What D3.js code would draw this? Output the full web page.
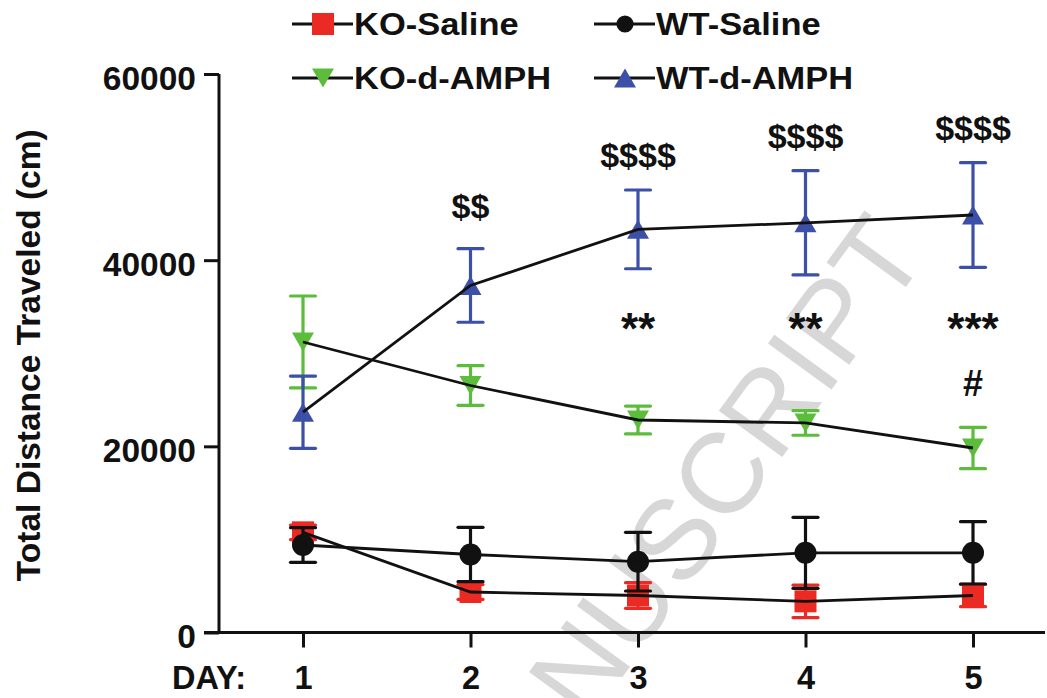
<!DOCTYPE html>
<html>
<head>
<meta charset="utf-8">
<script src="https://cdn.jsdelivr.net/npm/d3@7"></script>
<style>
  html, body { margin: 0; padding: 0; background: #fff; }
  svg { display: block; }
  text { font-family: "Liberation Sans", Arial, Helvetica, sans-serif; font-weight: bold; fill: #111; }
</style>
</head>
<body>
<svg id="chart" width="1047" height="698"></svg>
<script>
// ---------------- data ----------------
const days = [1, 2, 3, 4, 5];
const xTickLabels = ["1", "2", "3", "4", "5"];
const yTicks = [0, 20000, 40000, 60000];

const seriesNames = ["KO-Saline", "WT-Saline", "KO-d-AMPH", "WT-d-AMPH"];
const koSalineMean = [10760, 4350, 3975, 3350, 3975];
const koSalineSem  = [790, 800, 1375, 1750, 1200];
const wtSalineMean = [9400, 8380, 7610, 8560, 8560];
const wtSalineSem  = [1860, 2920, 3150, 3810, 3350];
const koAmphMean   = [31210, 26535, 22830, 22510, 19820];
const koAmphSem    = [4940, 2130, 1500, 1320, 2220];
const wtAmphMean   = [23670, 37280, 43310, 44010, 44850];
const wtAmphSem    = [3880, 3950, 4230, 5600, 5620];

const annotDays   = [2, 3, 4, 5, 3, 4, 5, 5];
const annotLabels = ["$$", "$$$$", "$$$$", "$$$$", "**", "**", "***", "#"];
const annotValues = [44490, 49970, 52010, 52910, 31000, 31000, 31000, 25410];

const yTitle = "Total Distance Traveled (cm)";
const xPrefix = "DAY:";
const watermark = "ACCEPTED MANUSCRIPT";

// ---------------- styles ----------------
const colors = { "KO-Saline": "#ec2a24", "WT-Saline": "#111111", "KO-d-AMPH": "#5bbd3b", "WT-d-AMPH": "#3d50a8" };
const shapes = { "KO-Saline": "square", "WT-Saline": "circle", "KO-d-AMPH": "down", "WT-d-AMPH": "up" };

const svg = d3.select("#chart");
const x = d3.scaleLinear().domain([1, 5]).range([303, 973]);
const y = d3.scaleLinear().domain([0, 60000]).range([632.5, 74]);

function markerPath(shape, s) {
  s = s || 1;
  if (shape === "square") return d3.symbol(d3.symbolSquare, 22 * 22 * s * s)();
  if (shape === "circle") return d3.symbol(d3.symbolCircle, Math.PI * 11 * 11 * s * s)();
  const w = 11 * s, h = 9.5 * s;
  if (shape === "up") return `M0,${-h}L${w},${h}L${-w},${h}Z`;
  return `M0,${h}L${w},${-h}L${-w},${-h}Z`;
}

// watermark (behind everything)
svg.append("text")
  .attr("transform", "translate(673,538) rotate(-54)")
  .attr("x", -9.0 * 114).attr("y", 0.358 * 114)
  .style("font-weight", "normal").style("font-size", "114px").style("fill", "#d7d7d7")
  .text(watermark);

// series objects
const means = [koSalineMean, wtSalineMean, koAmphMean, wtAmphMean];
const sems = [koSalineSem, wtSalineSem, koAmphSem, wtAmphSem];
const series = seriesNames.map((name, i) => ({
  name,
  points: days.map((d, j) => ({ day: d, mean: means[i][j], sem: sems[i][j] }))
}));

// error bars + markers
const capW = 12.5;
series.forEach(s => {
  const g = svg.append("g").attr("class", "series");
  const c = colors[s.name];
  const eb = g.selectAll("g.eb").data(s.points).enter().append("g");
  eb.append("line")
    .attr("x1", d => x(d.day)).attr("x2", d => x(d.day))
    .attr("y1", d => y(d.mean + d.sem)).attr("y2", d => y(d.mean - d.sem))
    .attr("stroke", c).attr("stroke-width", 3.2);
  [1, -1].forEach(sign => {
    eb.append("line")
      .attr("x1", d => x(d.day) - capW).attr("x2", d => x(d.day) + capW)
      .attr("y1", d => y(d.mean + sign * d.sem)).attr("y2", d => y(d.mean + sign * d.sem))
      .attr("stroke", c).attr("stroke-width", 3.2).attr("stroke-linecap", "round");
  });
  g.selectAll("path.m").data(s.points).enter().append("path")
    .attr("class", "m")
    .attr("transform", d => `translate(${x(d.day)},${y(d.mean)})`)
    .attr("d", markerPath(shapes[s.name]))
    .attr("fill", c);
});

// connecting lines on top
const line = d3.line().x(d => x(d.day)).y(d => y(d.mean));
series.forEach(s => {
  svg.append("path").datum(s.points)
    .attr("d", line).attr("fill", "none")
    .attr("stroke", "#111").attr("stroke-width", 2.8);
});

// y axis
const yAxis = d3.axisLeft(y).tickValues(yTicks).tickFormat(d3.format("d")).tickSize(15).tickSizeOuter(0).tickPadding(8);
const gy = svg.append("g").attr("transform", "translate(219,0)").call(yAxis);
gy.select(".domain").attr("stroke", "#111").attr("stroke-width", 3).attr("d", `M0,${y(60000)}V${y(0)}`);
gy.selectAll(".tick line").attr("stroke", "#111").attr("stroke-width", 3);
gy.selectAll(".tick text").attr("dy", "0.46em").style("font-size", "33.5px").style("font-family", null).attr("fill", "#111");

// x axis
svg.append("line").attr("x1", 204).attr("x2", 1045).attr("y1", y(0)).attr("y2", y(0))
  .attr("stroke", "#111").attr("stroke-width", 3);
const xAxis = d3.axisBottom(x).tickValues(days).tickFormat((d, i) => xTickLabels[i]).tickSize(15).tickSizeOuter(0).tickPadding(18.5);
const gx = svg.append("g").attr("transform", `translate(0,${y(0)})`).call(xAxis);
gx.select(".domain").remove();
gx.selectAll(".tick line").attr("stroke", "#111").attr("stroke-width", 3);
gx.selectAll(".tick text").style("font-size", "32.5px").style("font-family", null).attr("fill", "#111");
svg.append("text").attr("x", 172).attr("y", 689).style("font-size", "32.5px").text(xPrefix);

// y title
svg.append("text")
  .attr("transform", `translate(39.5,${(y(0) + y(60000)) / 2 + 2}) rotate(-90)`)
  .attr("text-anchor", "middle").style("font-size", "33.5px")
  .text(yTitle);

// annotations
annotLabels.forEach((lab, i) => {
  const star = lab.indexOf("*") >= 0;
  const hash = lab === "#";
  svg.append("text")
    .attr("x", x(annotDays[i])).attr("y", y(annotValues[i]))
    .attr("text-anchor", "middle")
    .style("font-size", star ? "44px" : (hash ? "36px" : "34px"))
    .text(lab);
});

// legend
const legendItems = [
  { name: "KO-Saline", lx: 292, ly: 24, small: false },
  { name: "WT-Saline", lx: 594, ly: 24, small: true },
  { name: "KO-d-AMPH", lx: 292, ly: 78, small: false },
  { name: "WT-d-AMPH", lx: 594, ly: 78, small: false }
];
legendItems.forEach(it => {
  const g = svg.append("g").attr("transform", `translate(${it.lx},${it.ly})`);
  g.append("line").attr("x1", 0).attr("x2", 61).attr("y1", 0).attr("y2", 0)
    .attr("stroke", "#111").attr("stroke-width", 2.8);
  g.append("path").attr("transform", "translate(31,0)")
    .attr("d", markerPath(shapes[it.name], it.small ? 0.78 : 1.0))
    .attr("fill", colors[it.name]);
  g.append("text").attr("transform", "translate(62,11) scale(1.13,1)")
    .style("font-size", "30.5px").text(it.name);
});
</script>
</body>
</html>
